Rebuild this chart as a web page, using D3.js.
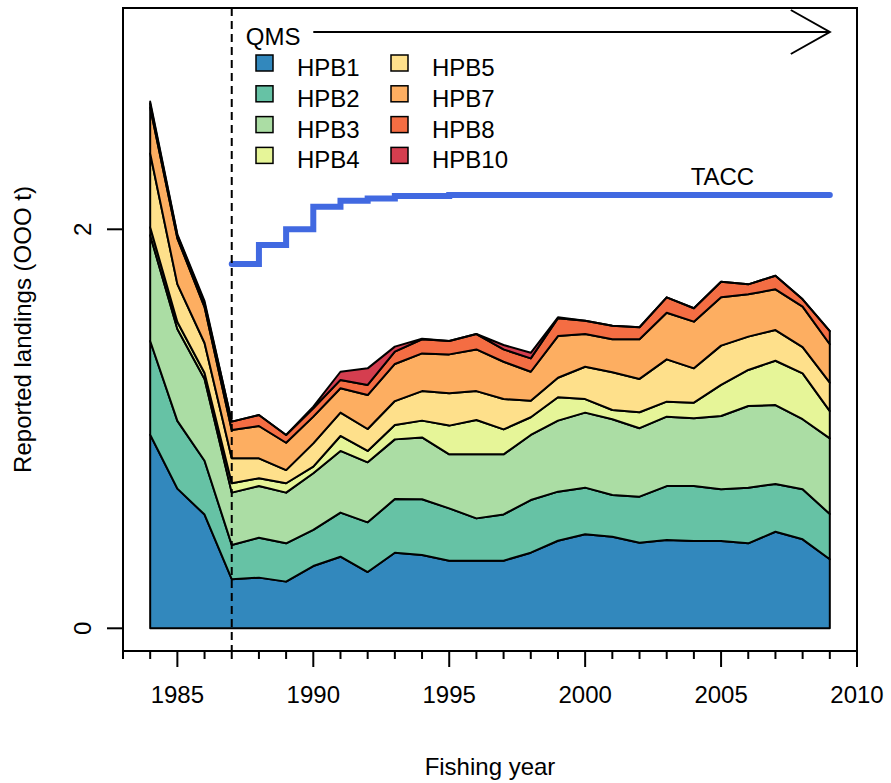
<!DOCTYPE html>
<html>
<head>
<meta charset="utf-8">
<script src="https://cdn.jsdelivr.net/npm/d3@7"></script>
<style>
  body { margin: 0; background: #fff; }
  svg text { font-family: "Liberation Sans", Arial, sans-serif; fill: #000; }
</style>
</head>
<body>
<svg id="chart" width="891" height="783"></svg>
<script>
// reported landings (000 t) by stock, fishing years 1984-2009
var years = d3.range(1984, 2010)
var keys = ["HPB1", "HPB2", "HPB3", "HPB4", "HPB5", "HPB7", "HPB8", "HPB10"]
var colors = ["#3288bd", "#66c2a5", "#abdda4", "#e6f598", "#fee08b", "#fdae61", "#f46d43", "#d53e4f"]

var HPB1 = [0.97, 0.70, 0.57, 0.246, 0.254, 0.234, 0.312, 0.359, 0.282, 0.379, 0.367, 0.339, 0.339, 0.339, 0.379, 0.439, 0.471, 0.459, 0.429, 0.443, 0.438, 0.438, 0.426, 0.484, 0.446, 0.346]
var HPB2 = [0.47, 0.34, 0.27, 0.172, 0.200, 0.192, 0.181, 0.221, 0.249, 0.269, 0.280, 0.262, 0.212, 0.232, 0.264, 0.246, 0.234, 0.209, 0.231, 0.270, 0.275, 0.259, 0.279, 0.239, 0.251, 0.227]
var HPB3 = [0.53, 0.46, 0.41, 0.262, 0.259, 0.254, 0.284, 0.309, 0.301, 0.299, 0.310, 0.271, 0.321, 0.301, 0.326, 0.356, 0.376, 0.380, 0.343, 0.348, 0.340, 0.367, 0.409, 0.396, 0.351, 0.379]
var HPB4 = [0.04, 0.035, 0.03, 0.047, 0.039, 0.047, 0.033, 0.075, 0.057, 0.072, 0.084, 0.144, 0.172, 0.125, 0.089, 0.117, 0.068, 0.046, 0.080, 0.075, 0.078, 0.156, 0.181, 0.222, 0.230, 0.137]
var HPB5 = [0.37, 0.19, 0.15, 0.125, 0.100, 0.066, 0.117, 0.117, 0.110, 0.120, 0.148, 0.162, 0.145, 0.152, 0.083, 0.098, 0.162, 0.189, 0.167, 0.212, 0.172, 0.197, 0.167, 0.154, 0.131, 0.142]
var HPB7 = [0.23, 0.23, 0.18, 0.142, 0.162, 0.137, 0.134, 0.122, 0.170, 0.186, 0.189, 0.195, 0.209, 0.187, 0.145, 0.209, 0.164, 0.166, 0.199, 0.234, 0.234, 0.242, 0.212, 0.204, 0.203, 0.193]
var HPB8 = [0.02, 0.015, 0.02, 0.042, 0.055, 0.039, 0.042, 0.042, 0.051, 0.062, 0.071, 0.067, 0.077, 0.062, 0.067, 0.089, 0.067, 0.068, 0.060, 0.077, 0.067, 0.078, 0.050, 0.068, 0.037, 0.066]
var HPB10 = [0.01, 0.005, 0.01, 0, 0, 0, 0.008, 0.041, 0.083, 0.025, 0.002, 0, 0, 0.022, 0.028, 0.005, 0, 0, 0, 0, 0, 0, 0, 0, 0, 0]

var taccYears = d3.range(1987, 2010)
var tacc = [1.826, 1.921, 2.00, 2.113, 2.143, 2.155, 2.167, 2.167, 2.172, 2.172, 2.172, 2.172, 2.172, 2.172, 2.172, 2.172, 2.172, 2.172, 2.172, 2.172, 2.172, 2.172, 2.172]

var xTicks = [1985, 1990, 1995, 2000, 2005, 2010]
var yTicks = [0, 2]
var qmsYear = 1987

var series = {HPB1: HPB1, HPB2: HPB2, HPB3: HPB3, HPB4: HPB4, HPB5: HPB5, HPB7: HPB7, HPB8: HPB8, HPB10: HPB10}
var table = years.map(function (yr, i) {
    var row = {year: yr}
    keys.forEach(function (k) { row[k] = series[k][i] })
    return row
})

var box = {left: 123, right: 857, top: 8, bottom: 651}
var svg = d3.select("#chart")

var x = d3.scaleLinear().domain([1983, 2010]).range([box.left, box.right])
var y = d3.scaleLinear().domain([0, 2]).range([628.3, 229.3])

var stacked = d3.stack().keys(keys)(table)

var area = d3.area()
    .x(d => x(d.data.year))
    .y0(d => y(d[0]))
    .y1(d => y(d[1]))

svg.append("g").attr("class", "layers")
    .selectAll("path")
    .data(stacked)
    .join("path")
    .attr("d", area)
    .attr("fill", (d, i) => colors[i])
    .attr("stroke", "black")
    .attr("stroke-width", 2)
    .attr("stroke-linejoin", "round")

// TACC step line
var taccLine = d3.line()
    .x((d, i) => x(taccYears[i]))
    .y(d => y(d))
    .curve(d3.curveStepAfter)

svg.append("path")
    .attr("d", taccLine(tacc))
    .attr("fill", "none")
    .attr("stroke", "#4169e1")
    .attr("stroke-width", 6)
    .attr("stroke-linecap", "round")

svg.append("text")
    .attr("x", x(2005.05))
    .attr("y", 185)
    .attr("text-anchor", "middle")
    .style("font-size", "24px")
    .text("TACC")

// QMS dashed line + arrow
svg.append("line")
    .attr("x1", x(qmsYear)).attr("x2", x(qmsYear))
    .attr("y1", box.top).attr("y2", box.bottom)
    .attr("stroke", "black")
    .attr("stroke-width", 2)
    .attr("stroke-dasharray", "8,5")

var arrowY = 32
var tipX = x(2009)
svg.append("path")
    .attr("d", "M" + x(1990) + "," + arrowY + "H" + tipX +
        "M" + (tipX - 39) + "," + (arrowY - 22) + "L" + tipX + "," + arrowY + "L" + (tipX - 39) + "," + (arrowY + 22))
    .attr("fill", "none")
    .attr("stroke", "black")
    .attr("stroke-width", 2)

svg.append("text")
    .attr("x", x(qmsYear) + 14)
    .attr("y", 45)
    .style("font-size", "24px")
    .text("QMS")

// legend, two columns of four
var legend = svg.append("g").attr("class", "legend")
keys.forEach(function (k, i) {
    var col = Math.floor(i / 4), row = i % 4
    var lx = 256 + col * 135, ly = 55 + row * 30.8
    legend.append("rect")
        .attr("x", lx).attr("y", ly)
        .attr("width", 17).attr("height", 16)
        .attr("fill", colors[i])
        .attr("stroke", "black")
        .attr("stroke-width", 1.5)
    legend.append("text")
        .attr("x", lx + 41).attr("y", ly + 21)
        .style("font-size", "24px")
        .text(k)
})

// frame
svg.append("rect")
    .attr("x", box.left).attr("y", box.top)
    .attr("width", box.right - box.left).attr("height", box.bottom - box.top)
    .attr("fill", "none")
    .attr("stroke", "black")
    .attr("stroke-width", 2)

// x axis ticks: every year minor, every 5 major
var xg = svg.append("g")
xg.selectAll("line")
    .data(d3.range(1983, 2011))
    .join("line")
    .attr("x1", d => x(d)).attr("x2", d => x(d))
    .attr("y1", box.bottom)
    .attr("y2", d => d % 5 == 0 ? box.bottom + 16 : box.bottom + 8)
    .attr("stroke", "black")
    .attr("stroke-width", 2)
xg.selectAll("text")
    .data(xTicks)
    .join("text")
    .attr("x", d => x(d))
    .attr("y", 703)
    .attr("text-anchor", "middle")
    .style("font-size", "24px")
    .text(d => d)

// y axis ticks
var yg = svg.append("g")
yg.selectAll("line")
    .data(yTicks)
    .join("line")
    .attr("x1", box.left - 16).attr("x2", box.left)
    .attr("y1", d => y(d)).attr("y2", d => y(d))
    .attr("stroke", "black")
    .attr("stroke-width", 2)
yg.selectAll("text")
    .data(yTicks)
    .join("text")
    .attr("transform", d => "translate(91," + y(d) + ") rotate(-90)")
    .attr("text-anchor", "middle")
    .style("font-size", "24px")
    .text(d => d)

svg.append("text")
    .attr("text-anchor", "middle")
    .attr("x", (box.left + box.right) / 2)
    .attr("y", 775)
    .style("font-size", "24px")
    .text("Fishing year")

svg.append("text")
    .attr("text-anchor", "middle")
    .attr("transform", "translate(31," + (box.top + box.bottom) / 2 + ") rotate(-90)")
    .style("font-size", "24px")
    .text("Reported landings (OOO t)")
</script>
</body>
</html>
